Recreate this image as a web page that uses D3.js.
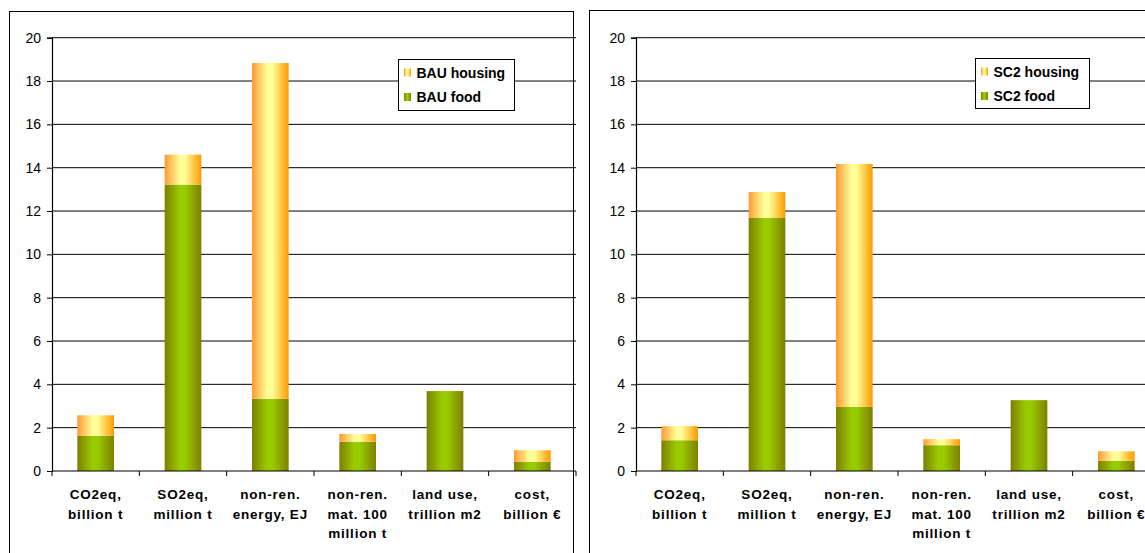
<!DOCTYPE html>
<html>
<head>
<meta charset="utf-8">
<script src="https://cdn.jsdelivr.net/npm/d3@7/dist/d3.min.js"></script>
<style>
  html, body { margin: 0; padding: 0; background: #fff; }
  svg { display: block; }
</style>
</head>
<body>
<svg id="chart" width="1145" height="553"></svg>
<script>
// ---- data ----
const categories = [
  ["CO2eq,", "billion t"],
  ["SO2eq,", "million t"],
  ["non-ren.", "energy, EJ"],
  ["non-ren.", "mat. 100", "million t"],
  ["land use,", "trillion m2"],
  ["cost,", "billion €"]
];
const yTicks = [0, 2, 4, 6, 8, 10, 12, 14, 16, 18, 20];

const bauFood    = [1.62, 13.22, 3.33, 1.35, 3.69, 0.42];
const bauHousing = [0.95, 1.38, 15.50, 0.36, 0.00, 0.54];
const sc2Food    = [1.42, 11.68, 2.96, 1.19, 3.27, 0.47];
const sc2Housing = [0.65, 1.20, 11.21, 0.28, 0.00, 0.44];

const bauLegend = ["BAU housing", "BAU food"];
const sc2Legend = ["SC2 housing", "SC2 food"];

// ---- drawing ----
const svg = d3.select("#chart");
const defs = svg.append("defs");

function grad(id, stops) {
  const g = defs.append("linearGradient").attr("id", id)
    .attr("x1", "0%").attr("x2", "100%").attr("y1", "0%").attr("y2", "0%");
  stops.forEach(s => g.append("stop").attr("offset", s[0]).attr("stop-color", s[1]));
}
grad("gFood", [["0%", "#7f7f00"], ["42%", "#99cc00"], ["55%", "#99cc00"], ["100%", "#7f7f00"]]);
grad("gHouse", [["0%", "#ff9933"], ["42%", "#ffff99"], ["55%", "#ffff99"], ["100%", "#ff9900"]]);

function drawChart(opt) {
  const g = svg.append("g");
  // frame
  g.append("rect")
    .attr("x", opt.frame[0] + 0.5).attr("y", opt.frame[1] + 0.5)
    .attr("width", opt.frame[2]).attr("height", 700)
    .attr("fill", "#fff").attr("stroke", "#000").attr("stroke-width", 1);

  const y = d3.scaleLinear().domain([0, 20]).range([opt.y0, opt.yTop]);
  const x = d3.scaleBand().domain(d3.range(categories.length))
    .range([opt.x0, opt.x1]).paddingInner(0.58).paddingOuter(0.29);

  // gridlines
  g.append("g").selectAll("line").data(yTicks.filter(t => t > 0)).join("line")
    .attr("x1", opt.x0).attr("x2", opt.x1)
    .attr("y1", d => y(d)).attr("y2", d => y(d))
    .attr("stroke", "#000").attr("stroke-width", 1);

  // bars
  const stack = d3.stack().keys(["food", "house"]);
  const rows = opt.food.map((f, i) => ({ i: i, food: f, house: opt.house[i] }));
  const series = stack(rows);
  const fills = ["url(#gFood)", "url(#gHouse)"];
  series.forEach((s, k) => {
    g.append("g").selectAll("rect").data(s.filter(d => d[1] - d[0] > 0)).join("rect")
      .attr("x", d => x(d.data.i))
      .attr("width", x.bandwidth())
      .attr("y", d => y(d[1]))
      .attr("height", d => y(d[0]) - y(d[1]))
      .attr("fill", fills[k]);
  });

  // y axis
  const ya = g.append("g").attr("transform", `translate(${opt.x0},0)`)
    .call(d3.axisLeft(y).tickValues(yTicks).tickSize(5).tickPadding(6).tickFormat(d3.format("d")));
  ya.select(".domain").attr("stroke", "#000").attr("stroke-width", 1.2);
  ya.selectAll(".tick line").attr("stroke", "#000");
  ya.selectAll("text").attr("font-family", "Liberation Sans, Arial, sans-serif")
    .attr("font-size", 14).attr("fill", "#000");

  // x axis line and boundary ticks
  const step = x.step();
  const bounds = d3.range(categories.length + 1).map(i => opt.x0 + i * step);
  g.append("line").attr("x1", opt.x0).attr("x2", opt.x1)
    .attr("y1", opt.y0).attr("y2", opt.y0).attr("stroke", "#000").attr("stroke-width", 1.2);
  g.append("g").selectAll("line").data(bounds).join("line")
    .attr("x1", d => d).attr("x2", d => d)
    .attr("y1", opt.y0).attr("y2", opt.y0 + 5)
    .attr("stroke", "#000");

  // category labels
  const lab = g.append("g").selectAll("text").data(categories).join("text")
    .attr("x", (d, i) => x(i) + x.bandwidth() / 2)
    .attr("y", opt.y0 + 28)
    .attr("text-anchor", "middle")
    .attr("font-family", "Liberation Sans, Arial, sans-serif")
    .attr("font-size", 13.5).attr("font-weight", "bold")
    .attr("letter-spacing", 0.8)
    .attr("fill", "#000");
  lab.each(function (d, i) {
    const t = d3.select(this);
    d.forEach((line, j) => {
      t.append("tspan").attr("x", x(i) + x.bandwidth() / 2)
        .attr("dy", j === 0 ? 0 : 19.5).text(line);
    });
  });

  // legend
  const L = opt.legend;
  const lg = g.append("g");
  lg.append("rect").attr("x", L.x + 0.5).attr("y", L.y + 0.5)
    .attr("width", L.w).attr("height", L.h)
    .attr("fill", "#fff").attr("stroke", "#000");
  const items = [{ name: opt.names[0], fill: "url(#gHouse)" }, { name: opt.names[1], fill: "url(#gFood)" }];
  items.forEach((it, k) => {
    const cy = L.y + 13.5 + k * 24.5;
    lg.append("rect").attr("x", L.x + 6).attr("y", cy - 4)
      .attr("width", 7).attr("height", 8).attr("fill", it.fill);
    lg.append("text").attr("x", L.x + 18.5).attr("y", cy + 5)
      .attr("font-family", "Liberation Sans, Arial, sans-serif")
      .attr("font-size", 14).attr("font-weight", "bold").attr("fill", "#000")
      .text(it.name);
  });
}

drawChart({
  frame: [9, 11, 564], x0: 52, x1: 576, y0: 471, yTop: 37.7,
  food: bauFood, house: bauHousing, names: bauLegend,
  legend: { x: 398, y: 59, w: 116, h: 51 }
});
drawChart({
  frame: [589, 10, 600], x0: 636, x1: 1160, y0: 471, yTop: 37.7,
  food: sc2Food, house: sc2Housing, names: sc2Legend,
  legend: { x: 975, y: 58, w: 114, h: 50 }
});
</script>
</body>
</html>
